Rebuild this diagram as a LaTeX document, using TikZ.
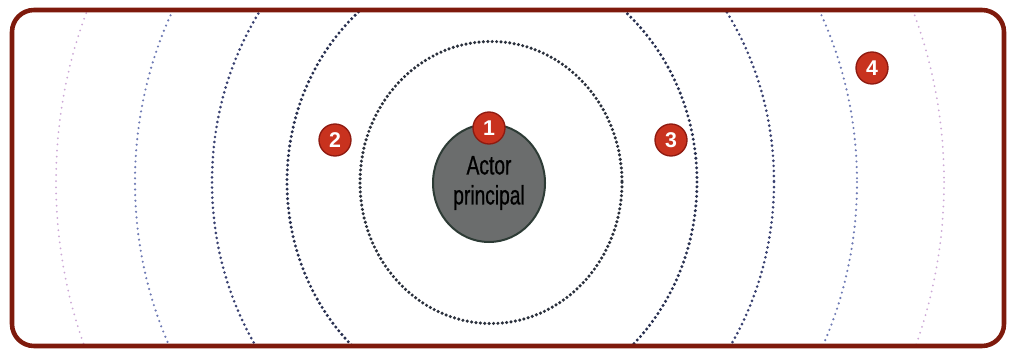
\documentclass[tikz,border=0pt]{standalone}
\usepackage{fontspec}
\usetikzlibrary{shapes.geometric}
\newfontfamily\narrowfont[FakeStretch=0.72,FakeBold=0.8]{Liberation Sans}
\newfontfamily\badgefont{Liberation Sans}
\definecolor{frame}{HTML}{7E1A0C}
\definecolor{badgered}{HTML}{C8321E}
\definecolor{badgeedge}{HTML}{8E1A10}
\definecolor{ringA}{HTML}{2A303C}
\definecolor{ringB}{HTML}{283050}
\definecolor{ringC}{HTML}{384070}
\definecolor{ringD}{HTML}{6E7AB4}
\definecolor{ringE}{HTML}{CCA8D6}
\definecolor{actorfill}{HTML}{6B6D6D}
\definecolor{actoredge}{HTML}{2D3B35}
\begin{document}
\begin{tikzpicture}[x=0.75pt,y=-0.75pt,
  ring/.style={line cap=round},
  ringa/.style={ring,draw=ringA,line width=2.6pt,dash pattern=on 0pt off 3.3pt},
  ringb/.style={ring,draw=ringB,line width=2.5pt,dash pattern=on 0pt off 3.6pt},
  ringc/.style={ring,draw=ringC,line width=2.2pt,dash pattern=on 0pt off 3.8pt},
  ringd/.style={ring,draw=ringD,line width=1.8pt,dash pattern=on 0pt off 4.2pt},
  ringe/.style={ring,draw=ringE,line width=1.5pt,dash pattern=on 0pt off 4.6pt},
  badge/.style={circle,fill=badgered,draw=badgeedge,line width=1pt,minimum size=24pt,inner sep=0pt,text=white,font=\badgefont\bfseries\fontsize{16pt}{16pt}\selectfont},
  actor/.style={ellipse,fill=actorfill,draw=actoredge,line width=1.5pt,minimum width=84pt,minimum height=88.5pt,inner sep=0pt,align=center,text=black,font=\narrowfont\fontsize{20pt}{22.5pt}\selectfont}]
\useasboundingbox (0,0) rectangle (1017,353);
\fill[white] (0,0) rectangle (1017,353);
\begin{scope}
\clip[rounded corners=16.5pt] (12,10) rectangle (1004,346);
\draw[ringe] (500,182) ellipse [x radius=444, y radius=465];
\draw[ringd] (496,182) ellipse [x radius=361, y radius=385];
\draw[ringc] (493,182) ellipse [x radius=281, y radius=306];
\draw[ringb] (492,182) ellipse [x radius=205, y radius=224];
\draw[ringa] (491,182.5) ellipse [x radius=131, y radius=141];
\end{scope}
\draw[frame,line width=3.4pt,rounded corners=16.5pt] (12,10) rectangle (1004,346);
\node[actor] (actor) at (489,183) {Actor\\principal};
\node[badge] (b1) at (489,128) {1};
\node[badge] (b2) at (335,140) {2};
\node[badge] (b3) at (671,140) {3};
\node[badge] (b4) at (872,68) {4};
\end{tikzpicture}
\end{document}
